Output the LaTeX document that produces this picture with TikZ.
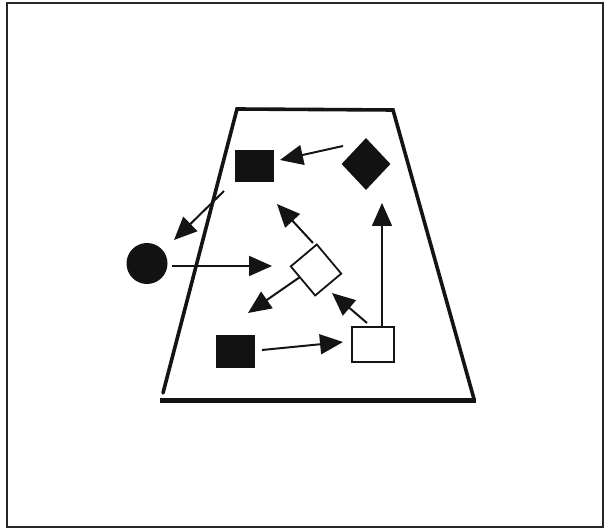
\documentclass[tikz,border=0pt]{standalone}
\usetikzlibrary{arrows.meta,shapes.geometric}
\begin{document}
\begin{tikzpicture}[x=1pt,y=1pt,
  frameline/.style={draw=black!85,line width=2.6pt},
  trapside/.style={draw=black!92,line width=3.6pt,line cap=round},
  trapbase/.style={draw=black!92,line width=5pt},
  solidbox/.style={rectangle,fill=black!93,draw=none,inner sep=0pt},
  hollowbox/.style={rectangle,fill=white,draw=black!92,line width=1.8pt,inner sep=0pt},
  soliddiam/.style={diamond,fill=black!93,draw=none,inner sep=0pt,minimum width=49pt,minimum height=52pt},
  soliddot/.style={circle,fill=black!93,draw=none,inner sep=0pt,minimum size=41pt},
  arr/.style={draw=black!92,line width=2pt,-{Triangle[length=23pt,width=20pt]}},
  thinarr/.style={draw=black!92,line width=1.4pt,-{Triangle[length=23pt,width=20pt]}}
]
\useasboundingbox (0,0) rectangle (607,530);
\fill[white] (0,0) rectangle (607,530);
% outer frame
\draw[frameline] (7,3) rectangle (603,527);
% trapezoid
\draw[trapside] (163,137) -- (237,421) -- (393,420) -- (474,131);
\draw[trapbase] (160,129) -- (476,129);
% shapes
\node[solidbox,minimum width=39pt,minimum height=32pt] (ts) at (254.5,364) {};
\node[soliddiam] (bd) at (366,366) {};
\node[soliddot] (ci) at (147,266.5) {};
\node[hollowbox,minimum width=38pt,minimum height=34pt,rotate=-50] (wd) at (316,260) {};
\node[solidbox,minimum width=39pt,minimum height=33pt] (bs) at (235.5,178.5) {};
\node[hollowbox,minimum width=42pt,minimum height=35pt] (ws) at (373,185.5) {};
% free end of the lower-left arrow
\coordinate (free) at ([shift={(12.5,38.5)}]bs.center);
% connectors
\draw[arr] ([shift={(-23,18)}]bd.center) -- ([shift={(25.5,6)}]ts.center);
\draw[arr] ([shift={(-30.5,-25)}]ts.center) -- ([shift={(27,23.5)}]ci.center);
\draw[arr] ([shift={(25,-2.5)}]ci.center) -- ([shift={(-44,4)}]wd.center);
\draw[arr] ([shift={(-3,27)}]wd.center) -- ([shift={(22.5,-38)}]ts.center);
\draw[arr] ([shift={(-16,-7)}]wd.center) -- (free);
\draw[arr] ([shift={(-6,21.5)}]ws.center) -- ([shift={(16,-23)}]wd.center);
\draw[thinarr] ([shift={(9,17.5)}]ws.center) -- ([shift={(16,-39)}]bd.center);
\draw[arr] ([shift={(26.5,1.5)}]bs.center) -- ([shift={(-30,2.5)}]ws.center);
\end{tikzpicture}
\end{document}
